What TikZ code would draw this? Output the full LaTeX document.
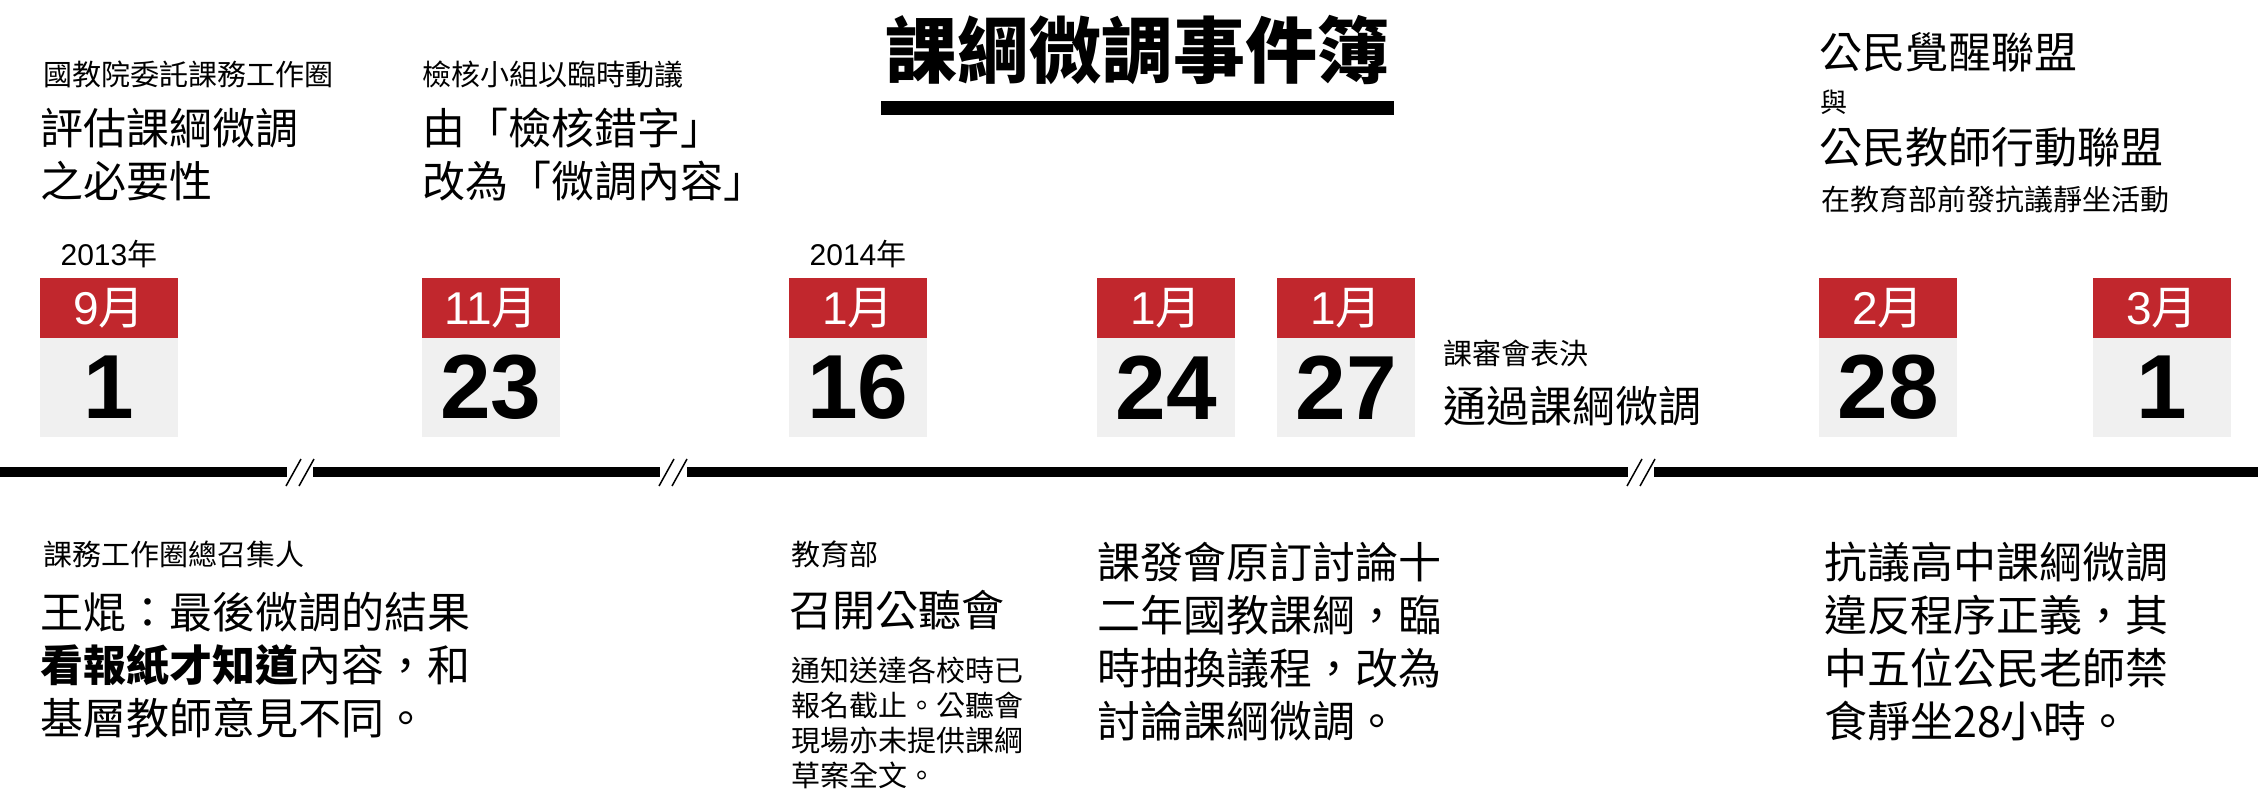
\documentclass[tikz,border=0pt]{standalone}
\usepackage{fontspec}
\setmainfont{Liberation Sans}
\newfontfamily\cjk{Noto Sans CJK TC}
\usepackage{tikz}
\usetikzlibrary{positioning}
\definecolor{calred}{HTML}{C1272D}
\definecolor{calgray}{HTML}{F0F0F0}

\begin{document}
\begin{tikzpicture}[x=1pt,y=-1pt,
  lbl/.style={font=\cjk\fontsize{29}{35}\selectfont,anchor=west,inner sep=0pt,align=left},
  hed/.style={font=\cjk\fontsize{43}{53}\selectfont,anchor=west,inner sep=0pt,align=left},
  monthbox/.style={fill=calred,text=white,minimum width=138pt,minimum height=60pt,inner sep=0pt,outer sep=0pt,font=\fontsize{46}{46}\selectfont},
  daybox/.style={fill=calgray,minimum width=138pt,minimum height=99pt,inner sep=0pt,outer sep=0pt,font=\bfseries\fontsize{91}{91}\selectfont},
  yearlbl/.style={inner sep=0pt,font=\fontsize{30}{30}\selectfont},
  brk/.style={line width=1.5pt}]
\useasboundingbox (0,0) rectangle (2258,802);
% title
\node[inner sep=0pt,font=\cjk\bfseries\fontsize{72}{72}\selectfont] (ttl) at (1137,50){課綱微調事件簿};
\fill (881,101) rectangle (1394,115);
% calendars
\foreach \n/\x/\m/\d in {a/40/9/1,b/422/11/23,c/789/1/16,d/1097/1/24,e/1277/1/27,f/1819/2/28,g/2093/3/1}{
  \node[monthbox] (m\n) at (\x+69,308){\m{\cjk 月}};
  \node[daybox,below=0pt of m\n] (d\n){\d};
}
\node[yearlbl,above=10pt of ma] (ya){2013{\cjk 年}};
\node[yearlbl,above=10pt of mc] (yc){2014{\cjk 年}};
% timeline with breaks
\foreach \a/\b in {0/287,313/660,687/1628,1654/2258}{\fill (\a,467) rectangle (\b,477);}
\foreach \a in {287,660,1628}{
  \draw[brk] (\a-1,486)--++(15,-27);
  \draw[brk] (\a+12,486)--++(15,-27);
}
% above the line
\node[lbl] (t1) at (43,74){國教院委託課務工作圈};
\node[hed,anchor=north west] (t1b) at (40,108){評估課綱微調\\之必要性};
\node[lbl] (t2) at (422,74){檢核小組以臨時動議};
\node[hed,anchor=north west] (t2b) at (422,108){由「檢核錯字」\\改為「微調內容」};
\node[lbl] (t5) at (1443,353){課審會表決};
\node[hed] (t5b) at (1443,406){通過課綱微調};
\node[hed] (t6) at (1819,52){公民覺醒聯盟};
\node[inner sep=0pt,anchor=west,font=\cjk\fontsize{27}{27}\selectfont] (t6b) at (1820,102){與};
\node[hed] (t6c) at (1819,147){公民教師行動聯盟};
\node[lbl] (t6d) at (1821,199){在教育部前發抗議靜坐活動};
% below the line
\node[lbl] (b1) at (43,554){課務工作圈總召集人};
\node[hed,anchor=north west] (b1b) at (40,592){王焜：最後微調的結果\\{\bfseries 看報紙才知道}內容，和\\基層教師意見不同。};
\node[lbl] (b3) at (791,554){教育部};
\node[hed] (b3b) at (789,610){召開公聽會};
\node[lbl,anchor=north west] (b3c) at (791,657){通知送達各校時已\\報名截止。公聽會\\現場亦未提供課綱\\草案全文。};
\node[hed,anchor=north west] (b4) at (1097,542){課發會原訂討論十\\二年國教課綱，臨\\時抽換議程，改為\\討論課綱微調。};
\node[hed,anchor=north west] (b6) at (1824,542){抗議高中課綱微調\\違反程序正義，其\\中五位公民老師禁\\食靜坐28小時。};
\end{tikzpicture}
\end{document}
